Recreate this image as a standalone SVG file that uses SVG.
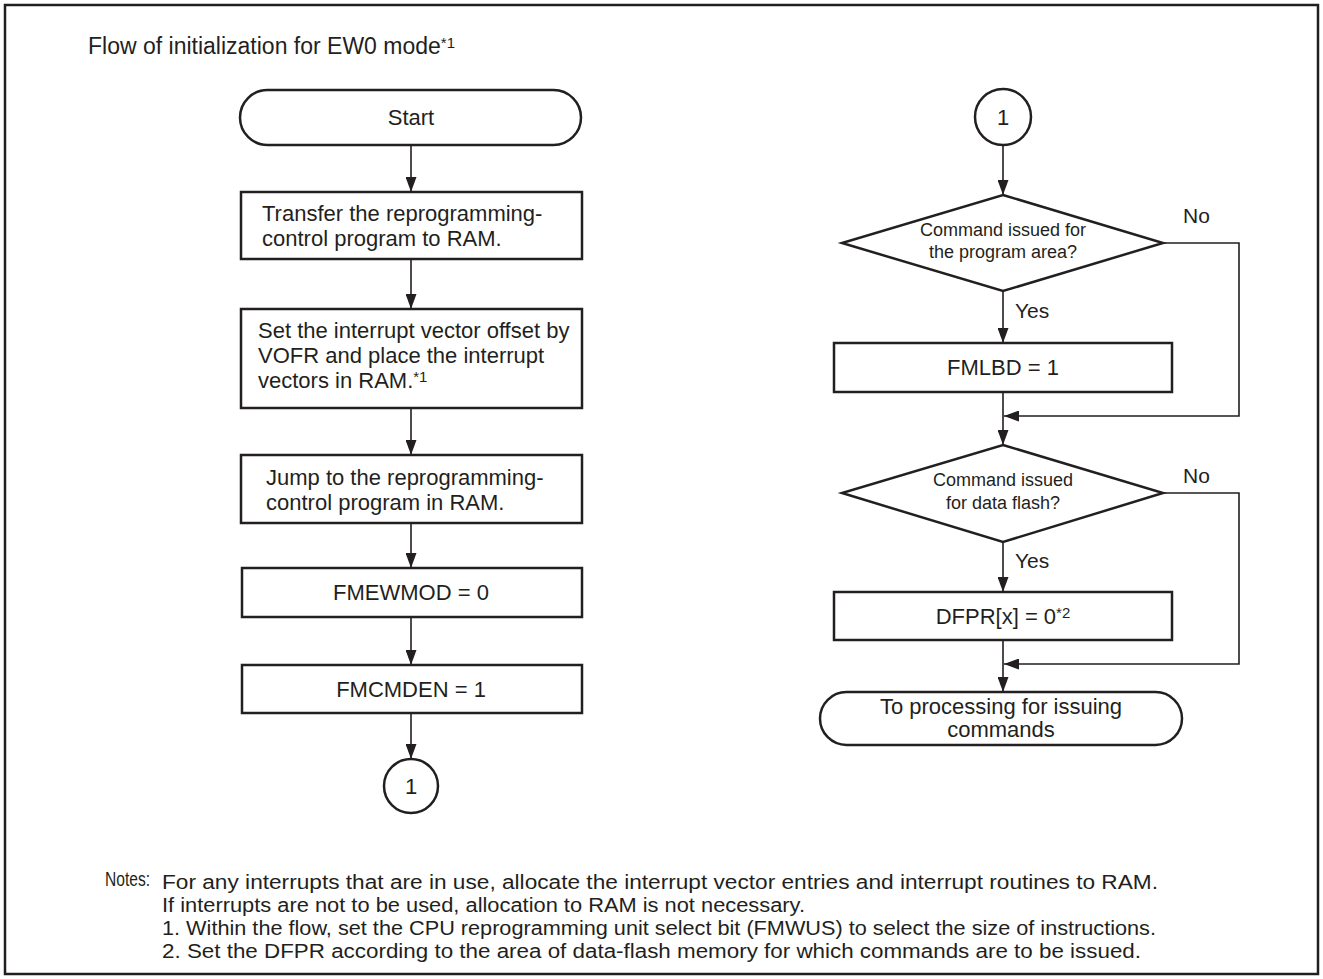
<svg xmlns="http://www.w3.org/2000/svg" width="1323" height="979" viewBox="0 0 1323 979">
<defs>
<style>
.t{font-family:"Liberation Sans",Arial,sans-serif;font-size:22px;fill:#231f20}
.h{font-family:"Liberation Sans",Arial,sans-serif;font-size:23px;fill:#231f20}
.l{font-family:"Liberation Sans",Arial,sans-serif;font-size:21px;fill:#231f20}
.d{font-family:"Liberation Sans",Arial,sans-serif;font-size:18px;fill:#231f20}
.n{font-family:"Liberation Sans Narrow","Liberation Sans",Arial,sans-serif;font-size:20px;fill:#231f20}
.box{fill:#fff;stroke:#231f20;stroke-width:2.5}
.c{fill:none;stroke:#231f20;stroke-width:1.6}
.sup{font-size:15px}
</style>
<marker id="ah" viewBox="0 0 15 11" refX="15" refY="5.5" markerWidth="15" markerHeight="11" markerUnits="userSpaceOnUse" orient="auto">
<path d="M0,0 L15,5.5 L0,11 Z" fill="#231f20"/>
</marker>
</defs>
<rect x="0" y="0" width="1323" height="979" fill="#fff"/>
<rect x="5" y="5" width="1313" height="969" fill="none" stroke="#231f20" stroke-width="2.5"/>
<text class="h" x="88" y="54">Flow of initialization for EW0 mode<tspan class="sup" dy="-6">*1</tspan></text>

<g id="connectors">
<line class="c" x1="411" y1="145" x2="411" y2="192" marker-end="url(#ah)"/>
<line class="c" x1="411" y1="259" x2="411" y2="309" marker-end="url(#ah)"/>
<line class="c" x1="411" y1="408" x2="411" y2="455" marker-end="url(#ah)"/>
<line class="c" x1="411" y1="523" x2="411" y2="568" marker-end="url(#ah)"/>
<line class="c" x1="411" y1="617" x2="411" y2="665" marker-end="url(#ah)"/>
<line class="c" x1="411" y1="713" x2="411" y2="759" marker-end="url(#ah)"/>
<line class="c" x1="1003" y1="145" x2="1003" y2="195" marker-end="url(#ah)"/>
<line class="c" x1="1003" y1="291" x2="1003" y2="343" marker-end="url(#ah)"/>
<line class="c" x1="1003" y1="392" x2="1003" y2="445" marker-end="url(#ah)"/>
<polyline class="c" points="1163,243 1239,243 1239,416 1004,416" marker-end="url(#ah)"/>
<line class="c" x1="1003" y1="542" x2="1003" y2="592" marker-end="url(#ah)"/>
<line class="c" x1="1003" y1="640" x2="1003" y2="692" marker-end="url(#ah)"/>
<polyline class="c" points="1163,493 1239,493 1239,664 1004,664" marker-end="url(#ah)"/>
<text class="l" x="1183" y="223">No</text>
<text class="l" x="1015" y="318">Yes</text>
<text class="l" x="1183" y="483">No</text>
<text class="l" x="1015" y="568">Yes</text>
</g>

<g id="start">
<rect class="box" x="240" y="90" width="341" height="55" rx="27.5"/>
<text class="t" x="411" y="125" text-anchor="middle">Start</text>
</g>
<g id="transfer">
<rect class="box" x="241" y="192" width="341" height="67"/>
<text class="t" x="262" y="221">Transfer the reprogramming-</text>
<text class="t" x="262" y="246">control program to RAM.</text>
</g>
<g id="vector">
<rect class="box" x="241" y="309" width="341" height="99"/>
<text class="t" x="258" y="338">Set the interrupt vector offset by</text>
<text class="t" x="258" y="363">VOFR and place the interrupt</text>
<text class="t" x="258" y="388">vectors in RAM.<tspan class="sup" dy="-6">*1</tspan></text>
</g>
<g id="jump">
<rect class="box" x="241" y="455" width="341" height="68"/>
<text class="t" x="266" y="485">Jump to the reprogramming-</text>
<text class="t" x="266" y="510">control program in RAM.</text>
</g>
<g id="fmewmod">
<rect class="box" x="242" y="568" width="340" height="49"/>
<text class="t" x="411" y="600" text-anchor="middle">FMEWMOD = 0</text>
</g>
<g id="fmcmden">
<rect class="box" x="242" y="665" width="340" height="48"/>
<text class="t" x="411" y="697" text-anchor="middle">FMCMDEN = 1</text>
</g>
<g id="conn1a">
<circle class="box" cx="411" cy="786" r="27"/>
<text class="t" x="411" y="794" text-anchor="middle">1</text>
</g>
<g id="conn1b">
<circle class="box" cx="1003" cy="117" r="28"/>
<text class="t" x="1003" y="125" text-anchor="middle">1</text>
</g>
<g id="dec1">
<polygon class="box" points="1003,195 1163,243 1003,291 842,243"/>
<text class="d" x="1003" y="236" text-anchor="middle">Command issued for</text>
<text class="d" x="1003" y="258" text-anchor="middle">the program area?</text>
</g>
<g id="fmlbd">
<rect class="box" x="834" y="343" width="338" height="49"/>
<text class="t" x="1003" y="375" text-anchor="middle">FMLBD = 1</text>
</g>
<g id="dec2">
<polygon class="box" points="1003,445 1163,493 1003,542 842,493"/>
<text class="d" x="1003" y="486" text-anchor="middle">Command issued</text>
<text class="d" x="1003" y="509" text-anchor="middle">for data flash?</text>
</g>
<g id="dfpr">
<rect class="box" x="834" y="592" width="338" height="48"/>
<text class="t" x="1003" y="624" text-anchor="middle">DFPR[x] = 0<tspan class="sup" dy="-6">*2</tspan></text>
</g>
<g id="end">
<rect class="box" x="820" y="692" width="362" height="53" rx="26.5"/>
<text class="t" x="1001" y="714" text-anchor="middle">To processing for issuing</text>
<text class="t" x="1001" y="737" text-anchor="middle">commands</text>
</g>

<g id="notes">
<text class="n" x="105" y="886" textLength="45" lengthAdjust="spacingAndGlyphs">Notes:</text>
<text class="n" x="162" y="889" textLength="996" lengthAdjust="spacingAndGlyphs">For any interrupts that are in use, allocate the interrupt vector entries and interrupt routines to RAM.</text>
<text class="n" x="162" y="912" textLength="643" lengthAdjust="spacingAndGlyphs">If interrupts are not to be used, allocation to RAM is not necessary.</text>
<text class="n" x="162" y="935" textLength="994" lengthAdjust="spacingAndGlyphs">1. Within the flow, set the CPU reprogramming unit select bit (FMWUS) to select the size of instructions.</text>
<text class="n" x="162" y="958" textLength="979" lengthAdjust="spacingAndGlyphs">2. Set the DFPR according to the area of data-flash memory for which commands are to be issued.</text>
</g>
</svg>
